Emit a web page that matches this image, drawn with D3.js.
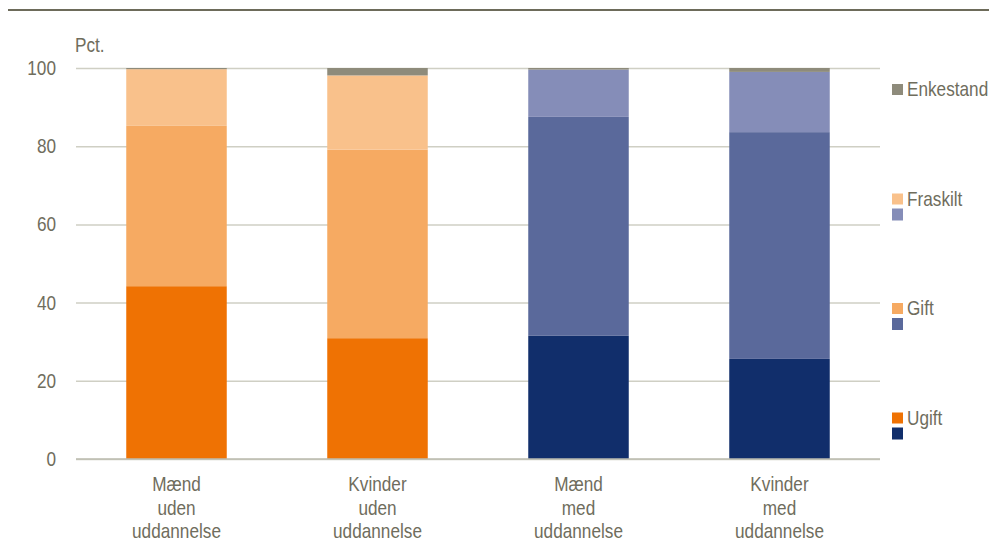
<!DOCTYPE html>
<html>
<head>
<meta charset="utf-8">
<script src="https://cdn.jsdelivr.net/npm/d3@7/dist/d3.min.js"></script>
<style>
  html, body { margin: 0; padding: 0; background: #fff; }
  svg text { font-family: "Liberation Sans", Arial, sans-serif; fill: #6f6d5d; }
</style>
</head>
<body>
<svg id="chart" width="989" height="549"></svg>
<script>
// ---- data ----
const categories = [
  ["Mænd", "uden", "uddannelse"],
  ["Kvinder", "uden", "uddannelse"],
  ["Mænd", "med", "uddannelse"],
  ["Kvinder", "med", "uddannelse"]
];
const seriesNames = ["Ugift", "Gift", "Fraskilt", "Enkestand"];
const ugift     = [44.2, 30.9, 31.5, 25.6];
const gift      = [41.0, 48.2, 56.0, 58.0];
const fraskilt  = [14.5, 19.0, 12.1, 15.4];
const enkestand = [0.3, 1.9, 0.4, 1.0];
const yTicks = [0, 20, 40, 60, 80, 100];
const yUnit = "Pct.";
const groupOf = ["orange", "orange", "blue", "blue"];

// ---- styles ----
const palette = {
  orange: { Ugift: "#ef7203", Gift: "#f6aa62", Fraskilt: "#f9c18b", Enkestand: "#8e8b7b" },
  blue:   { Ugift: "#112e6b", Gift: "#5a699b", Fraskilt: "#858db8", Enkestand: "#8e8b7b" }
};
const SX = 0.86;     // horizontal condensing of the text
const FS = 20;

const svg = d3.select("#chart");

function addText(parent, tx, ty, str, anchor) {
  return parent.append("text")
    .attr("transform", `translate(${tx},${ty}) scale(${SX},1)`)
    .attr("text-anchor", anchor || "start")
    .attr("font-size", FS)
    .text(str);
}

// top rule
svg.append("line").attr("x1", 8).attr("x2", 989).attr("y1", 10).attr("y2", 10)
  .attr("stroke", "#6d6b5a").attr("stroke-width", 2);

const x = d3.scaleBand().domain(d3.range(categories.length))
  .range([76, 880]).paddingInner(0.5).paddingOuter(0.25);
const y = d3.scaleLinear().domain([0, 100]).range([459, 68]);

// gridlines + y labels
const yAxis = d3.axisLeft(y).tickValues(yTicks).tickSize(-(880 - 76)).tickPadding(20);
const gy = svg.append("g").attr("transform", "translate(76,0)").call(yAxis);
gy.select(".domain").remove();
gy.selectAll(".tick line").attr("stroke", "#cfcfc4").attr("stroke-width", 1.5);
gy.selectAll(".tick text")
  .attr("font-size", FS)
  .attr("x", -20 / SX)
  .attr("transform", `scale(${SX},1)`)
  .style("fill", "#6f6d5d")
  .style("font-family", "'Liberation Sans', Arial, sans-serif");

addText(svg, 75, 52, yUnit);

// stacked data
const table = categories.map((c, i) => ({
  i, Ugift: ugift[i], Gift: gift[i], Fraskilt: fraskilt[i], Enkestand: enkestand[i]
}));
const stack = d3.stack().keys(seriesNames)(table);

const bars = svg.append("g");
stack.forEach(layer => {
  bars.selectAll(null).data(layer).enter().append("rect")
    .attr("x", d => x(d.data.i))
    .attr("width", x.bandwidth())
    .attr("y", d => y(d[1]))
    .attr("height", d => y(d[0]) - y(d[1]))
    .attr("fill", d => palette[groupOf[d.data.i]][layer.key]);
});

// baseline
svg.append("line").attr("x1", 76).attr("x2", 880).attr("y1", y(0)).attr("y2", y(0))
  .attr("stroke", "#bdbcb0").attr("stroke-width", 1.5);

// x labels
const xl = svg.append("g");
categories.forEach((lines, i) => {
  const cx = x(i) + x.bandwidth() / 2;
  lines.forEach((ln, k) => addText(xl, cx, 491 + k * 23.5, ln, "middle"));
});

// legend (top to bottom: Enkestand, Fraskilt, Gift, Ugift)
const legendOrder = ["Enkestand", "Fraskilt", "Gift", "Ugift"];
const lg = svg.append("g");
legendOrder.forEach((name, k) => {
  const top = 84 + k * 109.5;
  lg.append("rect").attr("x", 892).attr("y", top).attr("width", 11).attr("height", 11)
    .attr("fill", palette.orange[name]);
  if (name !== "Enkestand") {
    lg.append("rect").attr("x", 892).attr("y", top + 15).attr("width", 11).attr("height", 12)
      .attr("fill", palette.blue[name]);
  }
  addText(lg, 907, top + 12, name);
});
</script>
</body>
</html>
